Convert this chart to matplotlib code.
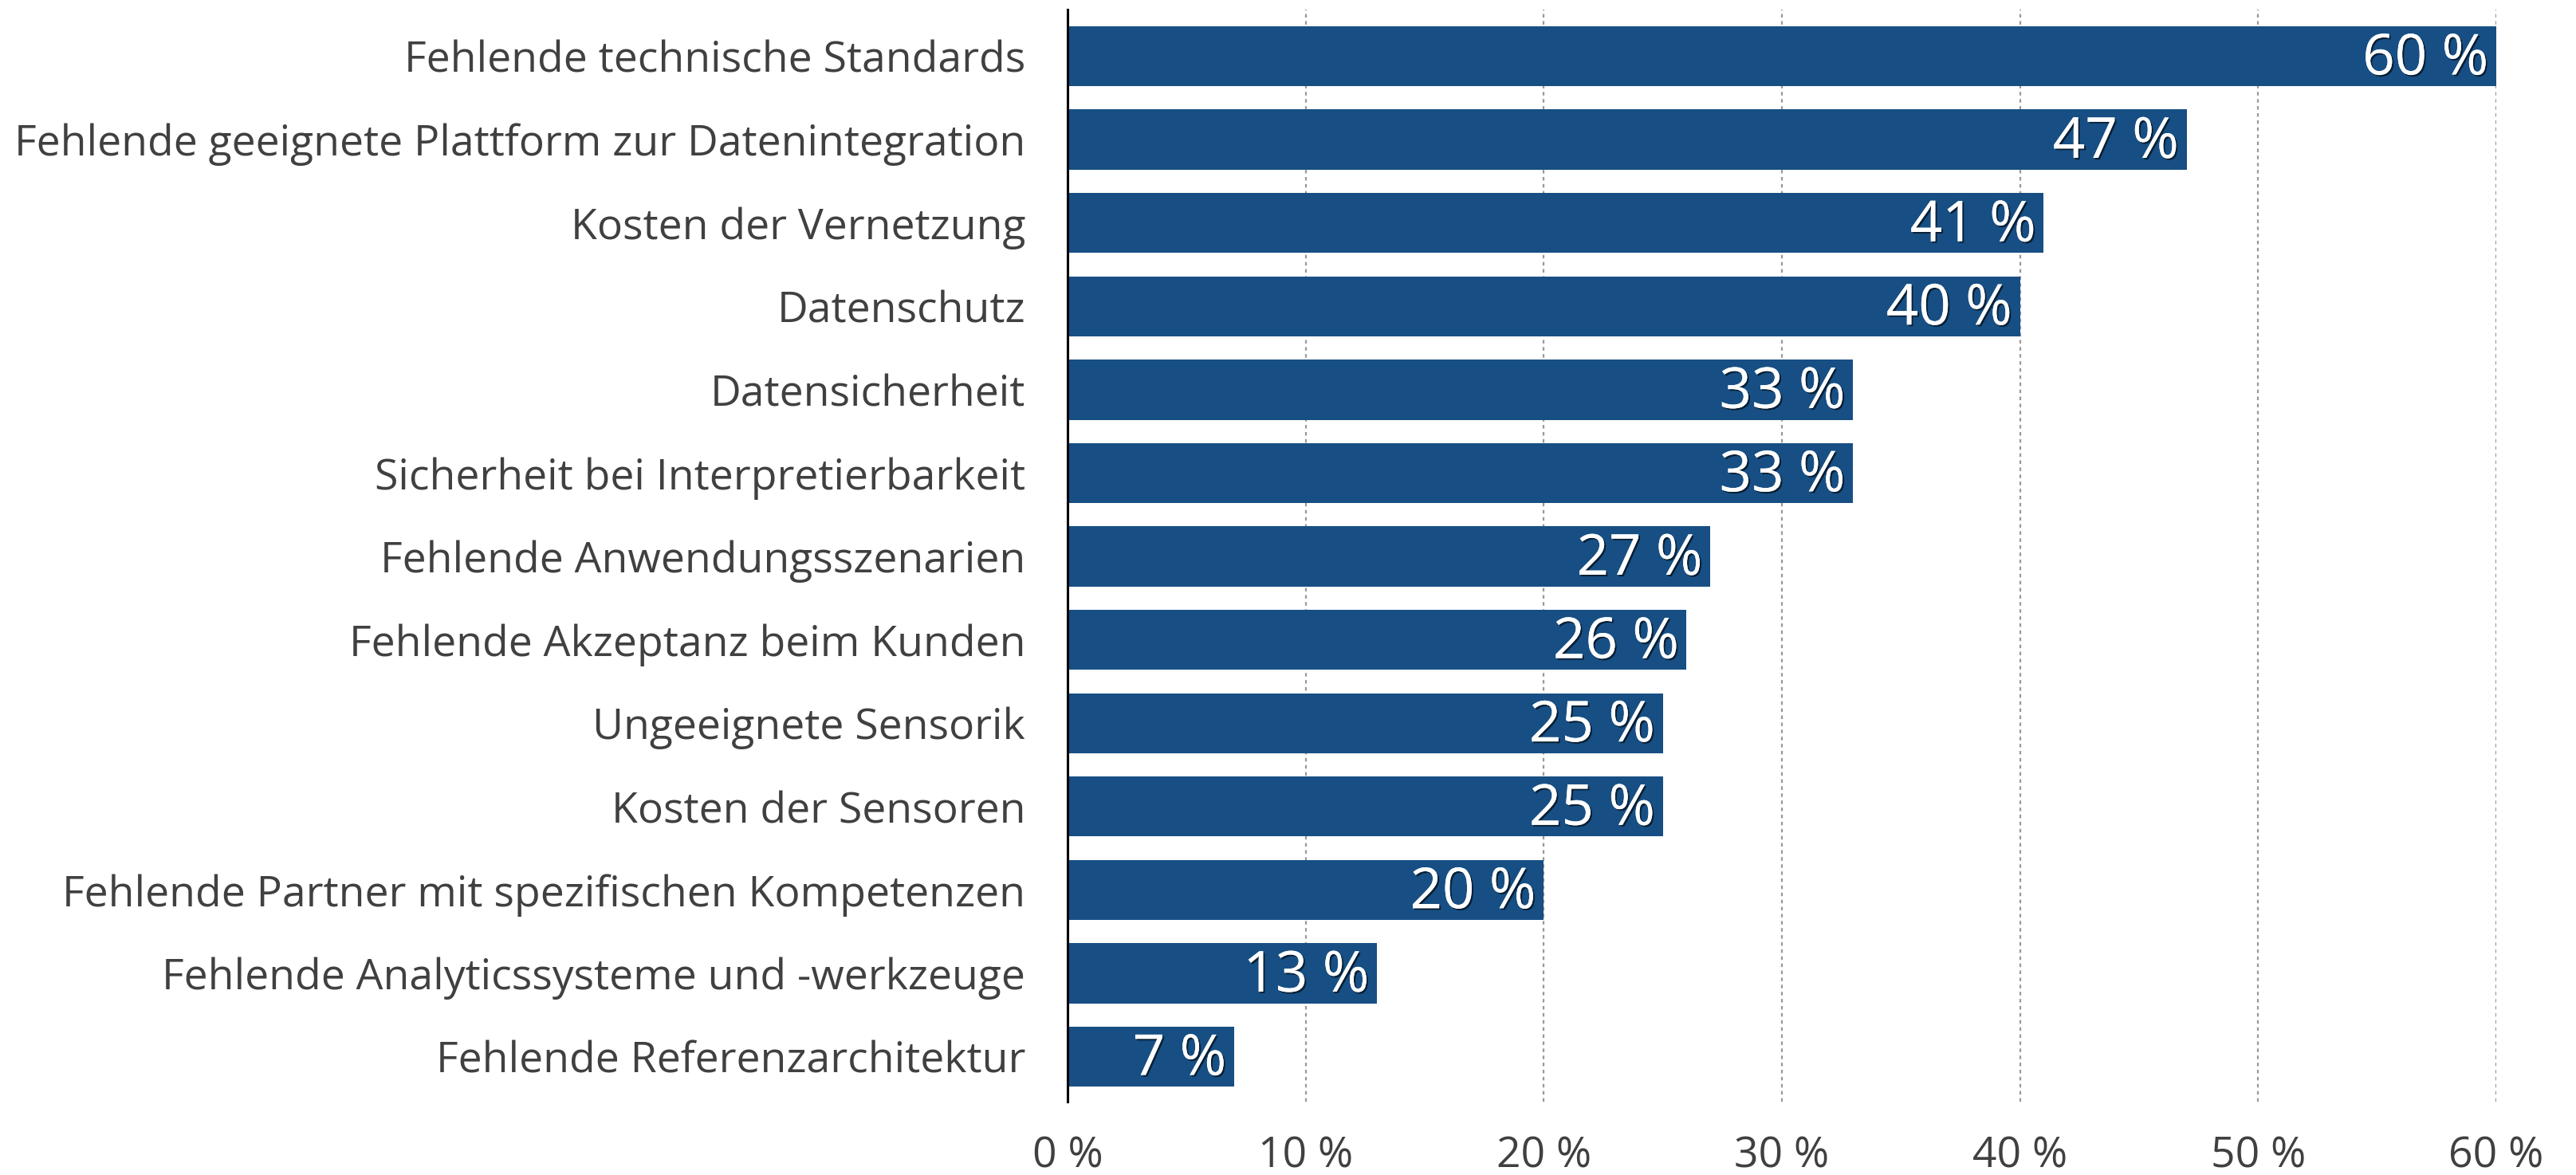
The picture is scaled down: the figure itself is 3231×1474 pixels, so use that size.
import matplotlib
matplotlib.use("Agg")
import matplotlib.pyplot as plt
import matplotlib.patheffects as pe
import numpy as np

plt.rcParams['font.family'] = ['Open Sans', 'DejaVu Sans']

categories = [
    "Fehlende technische Standards",
    "Fehlende geeignete Plattform zur Datenintegration",
    "Kosten der Vernetzung",
    "Datenschutz",
    "Datensicherheit",
    "Sicherheit bei Interpretierbarkeit",
    "Fehlende Anwendungsszenarien",
    "Fehlende Akzeptanz beim Kunden",
    "Ungeeignete Sensorik",
    "Kosten der Sensoren",
    "Fehlende Partner mit spezifischen Kompetenzen",
    "Fehlende Analyticssysteme und -werkzeuge",
    "Fehlende Referenzarchitektur",
]
values = [60, 47, 41, 40, 33, 33, 27, 26, 25, 25, 20, 13, 7]
x_ticks = [0, 10, 20, 30, 40, 50, 60]
x_tick_labels = ["%d %%" % t for t in x_ticks]

bar_color = "#174f84"
text_color = "#404040"

fig = plt.figure(figsize=(32.31, 14.74), dpi=100)
ax = fig.add_axes([0.4144, 0.0624, 0.969 - 0.4144, 0.9919 - 0.0624])

y = np.arange(len(categories))
ax.barh(y, values, height=0.72, color=bar_color, zorder=2)

ax.set_xlim(0, 60)
ax.set_ylim(len(categories) - 0.46, -0.56)

ax.set_yticks(y)
ax.set_yticklabels(categories, fontsize=38.5, color=text_color)
ax.set_xticks(x_ticks)
ax.set_xticklabels(x_tick_labels, fontsize=38.5, color=text_color)
ax.tick_params(axis='y', length=0, pad=38)
ax.tick_params(axis='x', length=0, pad=30)

for side in ['top', 'right', 'bottom']:
    ax.spines[side].set_visible(False)
ax.spines['left'].set_linewidth(2.2)
ax.spines['left'].set_color('black')
ax.spines['left'].set_zorder(3)

ax.xaxis.grid(True, color='#999999', linewidth=1.6, linestyle=(0, (2, 2)))
ax.set_axisbelow(True)

# white value labels with a soft dark drop shadow
shadow = [pe.withSimplePatchShadow(offset=(1.5, -1.5), shadow_rgbFace='black', alpha=0.6),
          pe.Normal()]
for yi, v in zip(y, values):
    ax.annotate("%d %%" % v, xy=(v, yi), xytext=(-7, -3), textcoords='offset points',
                ha='right', va='center', fontsize=51, color='white',
                path_effects=shadow, zorder=4)

fig.savefig("out.png", dpi=100)
